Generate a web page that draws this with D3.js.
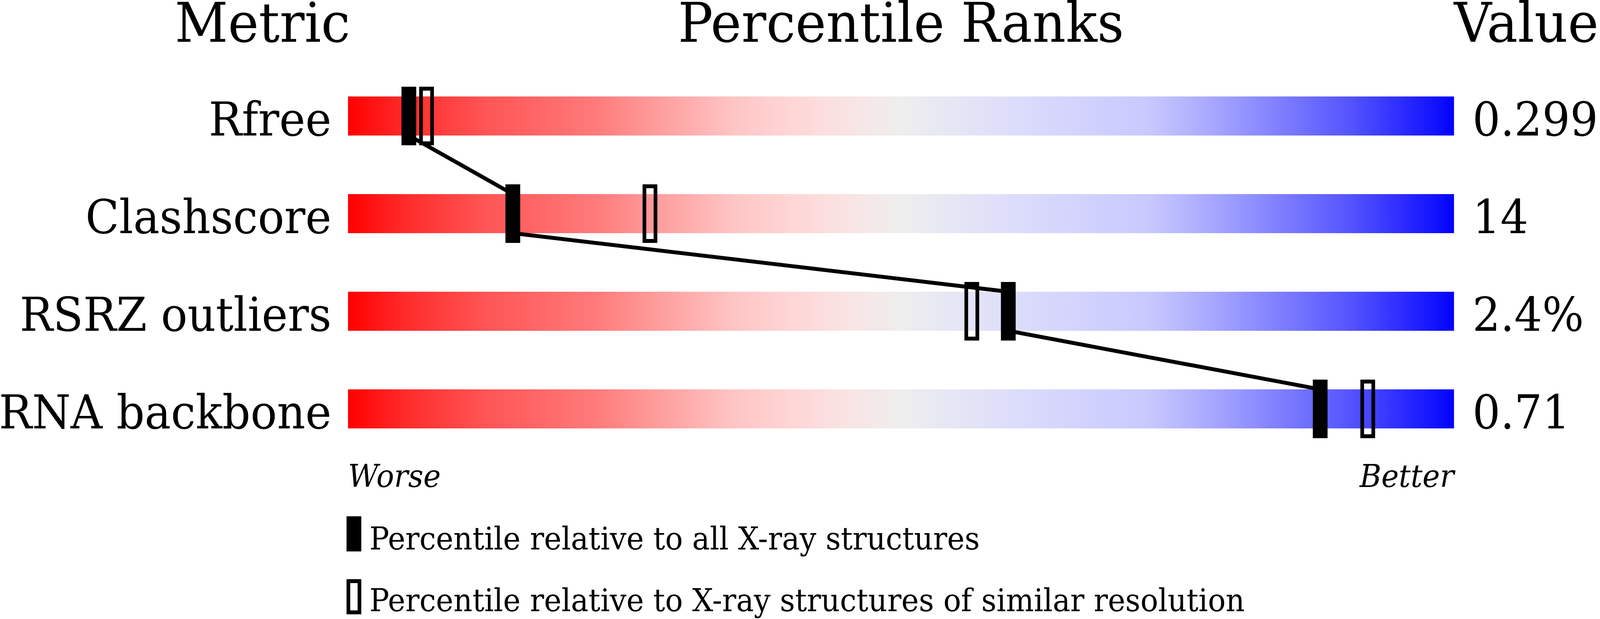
<!DOCTYPE html>
<html>
<head>
<meta charset="utf-8">
<script src="https://cdn.jsdelivr.net/npm/d3@7"></script>
<style>
  html, body { margin: 0; padding: 0; background: #fff; overflow: hidden; }
  svg { display: block; width: 100vw; height: 100vh; font-family: "DejaVu Serif", serif; }
</style>
</head>
<body>
<svg id="chart"></svg>
<script>
const width = 4340, height = 1585;

// data
const metrics = ["Rfree", "Clashscore", "RSRZ outliers", "RNA backbone"];
const values = ["0.299", "14", "2.4%", "0.71"];
const pctAll = [5.5, 14.9, 59.7, 87.9];      // filled markers
const pctSimilar = [7.1, 27.3, 56.4, 92.2];  // open markers
const legendLabels = [
    "Percentile relative to all X-ray structures",
    "Percentile relative to X-ray structures of similar resolution"
];

// bar colour ramp, worse (red) -> better (blue)
const gradientStops = [
    [0, "rgb(255,0,0)"], [0.05, "rgb(255,42,42)"], [0.125, "rgb(255,85,85)"],
    [0.225, "rgb(255,123,123)"], [0.285, "rgb(255,160,160)"], [0.35, "rgb(255,197,197)"],
    [0.40, "rgb(255,213,213)"], [0.445, "rgb(250,226,226)"], [0.5, "rgb(238,238,238)"],
    [0.605, "rgb(220,220,252)"], [0.725, "rgb(200,200,255)"], [0.785, "rgb(165,165,255)"],
    [0.845, "rgb(125,125,255)"], [0.905, "rgb(85,85,255)"], [0.985, "rgb(16,16,255)"],
    [1, "rgb(0,0,255)"]
];

const svg = d3.select("#chart")
    .attr("viewBox", `0 0 ${width} ${height}`)
    .attr("preserveAspectRatio", "none");

const x = d3.scaleLinear().domain([0, 100]).range([944, 3944]);
const y = d3.scaleBand().domain(metrics).range([247, 1097]).paddingInner(0.6).paddingOuter(0);
const bw = y.bandwidth();

const grad = svg.append("defs").append("linearGradient")
    .attr("id", "rank")
    .attr("x1", "0%").attr("x2", "100%").attr("y1", "0%").attr("y2", "0%");
grad.selectAll("stop")
    .data(gradientStops)
    .enter().append("stop")
    .attr("offset", d => d[0])
    .attr("stop-color", d => d[1]);

// headers
const head = svg.append("g").attr("font-size", 141);
head.append("text").attr("x", x(0) + 6).attr("y", 107).attr("text-anchor", "end").text("Metric");
head.append("text").attr("x", (x(0) + x(100)) / 2).attr("y", 107).attr("text-anchor", "middle").text("Percentile Ranks");
head.append("text").attr("x", x(100)).attr("y", 107).text("Value");

// bars
svg.selectAll("rect.bar")
    .data(metrics)
    .enter().append("rect")
    .attr("class", "bar")
    .attr("x", x(0))
    .attr("y", d => y(d))
    .attr("width", x(100) - x(0))
    .attr("height", bw)
    .attr("fill", "url(#rank)");

// metric names and values
svg.selectAll("text.metric")
    .data(metrics)
    .enter().append("text")
    .attr("class", "metric")
    .attr("x", x(0) - 45)
    .attr("y", d => y(d) + bw)
    .attr("text-anchor", "end")
    .attr("font-size", 119.5)
    .text(d => d);

svg.selectAll("text.value")
    .data(values)
    .enter().append("text")
    .attr("class", "value")
    .attr("x", x(100) + 50)
    .attr("y", (d, i) => y(metrics[i]) + bw)
    .attr("font-size", 119)
    .text(d => d);

// line joining the filled markers, bottom of one bar to top of the next
const pts = [];
pctAll.forEach((p, i) => {
    pts.push([x(p), y(metrics[i])]);
    pts.push([x(p), y(metrics[i]) + bw]);
});
svg.append("path")
    .attr("d", d3.line()(pts.slice(1, -1)))
    .attr("fill", "none")
    .attr("stroke", "#000")
    .attr("stroke-width", 10);

const mw = 40, over = 25;

svg.selectAll("rect.sim")
    .data(pctSimilar)
    .enter().append("rect")
    .attr("class", "sim")
    .attr("x", d => x(d) - mw / 2 + 5)
    .attr("y", (d, i) => y(metrics[i]) - over + 5)
    .attr("width", mw - 10)
    .attr("height", bw + 2 * over - 10)
    .attr("fill", "none")
    .attr("stroke", "#000")
    .attr("stroke-width", 10);

svg.selectAll("rect.all")
    .data(pctAll)
    .enter().append("rect")
    .attr("class", "all")
    .attr("x", d => x(d) - mw / 2)
    .attr("y", (d, i) => y(metrics[i]) - over)
    .attr("width", mw)
    .attr("height", bw + 2 * over)
    .attr("fill", "#000");

// worse / better
svg.append("text").attr("x", x(0)).attr("y", 1247)
    .attr("font-size", 80).attr("font-style", "italic").text("Worse");
svg.append("text").attr("x", x(100)).attr("y", 1247)
    .attr("font-size", 80).attr("font-style", "italic").attr("text-anchor", "end").text("Better");

// legend
const leg = svg.append("g");
leg.append("rect").attr("x", 940).attr("y", 1322).attr("width", 40).attr("height", 90).attr("fill", "#000");
leg.append("rect").attr("x", 945).attr("y", 1488).attr("width", 30).attr("height", 80)
    .attr("fill", "none").attr("stroke", "#000").attr("stroke-width", 10);
leg.selectAll("text")
    .data(legendLabels)
    .enter().append("text")
    .attr("x", 1002)
    .attr("y", (d, i) => 1407 + i * 158)
    .attr("font-size", 80)
    .text(d => d);
</script>
</body>
</html>
